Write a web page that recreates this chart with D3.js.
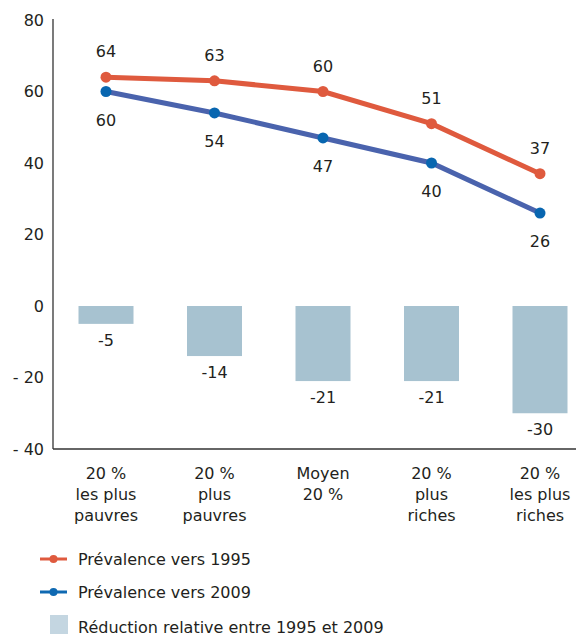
<!DOCTYPE html>
<html><head><meta charset="utf-8">
<script src="https://cdn.jsdelivr.net/npm/d3@7"></script>
<style>body{margin:0;background:#fff}svg{display:block}text{font-family:"DejaVu Sans",sans-serif;fill:#231f20}</style>
</head><body><svg id="c" width="576" height="637"></svg>
<script>
const categories = [["20 %","les plus","pauvres"],["20 %","plus","pauvres"],["Moyen","20 %"],["20 %","plus","riches"],["20 %","les plus","riches"]];
const prev1995 = [64, 63, 60, 51, 37];
const prev2009 = [60, 54, 47, 40, 26];
const reduction = [-5, -14, -21, -21, -30];
const yTicks = [80, 60, 40, 20, 0, -20, -40];
const legendLabels = ["Prévalence vers 1995", "Prévalence vers 2009", "Réduction relative entre 1995 et 2009"];

const svg = d3.select("#c");
const idx = d3.range(categories.length);
const x = d3.scalePoint().domain(idx).range([106, 540]);
const y = d3.scaleLinear().domain([-40, 80]).range([449, 20]);
const fs = 16;
const red = "#df5a3e", blueLine = "#4a63ad", blueDot = "#0866b0", barC = "#a7c2d0";

// axes
svg.append("line").attr("x1",53).attr("x2",53).attr("y1",y(80)-1).attr("y2",y(-40)).attr("stroke","#333").attr("stroke-width",1.3);
svg.append("line").attr("x1",53).attr("x2",576).attr("y1",y(-40)).attr("y2",y(-40)).attr("stroke","#333").attr("stroke-width",1.3);
svg.selectAll(".yt").data(yTicks).enter().append("text")
  .attr("x",44).attr("y",d=>y(d)).attr("dy","0.35em").attr("text-anchor","end").attr("font-size",fs)
  .text(d=> d<0 ? "- "+Math.abs(d) : d);

// bars
const bw = 55;
svg.selectAll(".bar").data(reduction).enter().append("rect")
  .attr("x",(d,i)=>x(i)-bw/2).attr("width",bw).attr("y",y(0)).attr("height",d=>y(d)-y(0)).attr("fill",barC);
svg.selectAll(".bl").data(reduction).enter().append("text")
  .attr("x",(d,i)=>x(i)).attr("y",d=>y(d)+22).attr("text-anchor","middle").attr("font-size",fs).text(d=>d);

// lines
const line = d3.line().x((d,i)=>x(i)).y(d=>y(d));
svg.append("path").datum(prev1995).attr("d",line).attr("fill","none").attr("stroke",red).attr("stroke-width",5);
svg.append("path").datum(prev2009).attr("d",line).attr("fill","none").attr("stroke",blueLine).attr("stroke-width",5);
svg.selectAll(".d1").data(prev1995).enter().append("circle").attr("cx",(d,i)=>x(i)).attr("cy",d=>y(d)).attr("r",5.5).attr("fill",red);
svg.selectAll(".d2").data(prev2009).enter().append("circle").attr("cx",(d,i)=>x(i)).attr("cy",d=>y(d)).attr("r",5.5).attr("fill",blueDot);
svg.selectAll(".l1").data(prev1995).enter().append("text").attr("x",(d,i)=>x(i)).attr("y",d=>y(d)-20).attr("text-anchor","middle").attr("font-size",fs).text(d=>d);
svg.selectAll(".l2").data(prev2009).enter().append("text").attr("x",(d,i)=>x(i)).attr("y",d=>y(d)+34).attr("text-anchor","middle").attr("font-size",fs).text(d=>d);

// category labels
categories.forEach((lines,i)=>{
  const t = svg.append("text").attr("text-anchor","middle").attr("font-size",fs);
  lines.forEach((s,j)=>t.append("tspan").attr("x",x(i)).attr("y",479+j*21).text(s));
});

// legend
const lg = [{c:red,y:559},{c:"#0f69b2",y:592}];
lg.forEach((o,i)=>{
  svg.append("line").attr("x1",40).attr("x2",67).attr("y1",o.y).attr("y2",o.y).attr("stroke",o.c).attr("stroke-width",3);
  svg.append("circle").attr("cx",53.5).attr("cy",o.y).attr("r",4).attr("fill",o.c);
  svg.append("text").attr("x",78).attr("y",o.y).attr("dy","0.35em").attr("font-size",fs).text(legendLabels[i]);
});
svg.append("rect").attr("x",50).attr("y",615).attr("width",18).attr("height",19).attr("fill","#c4d6e1");
svg.append("text").attr("x",78).attr("y",627).attr("dy","0.35em").attr("font-size",fs).text(legendLabels[2]);
</script></body></html>
